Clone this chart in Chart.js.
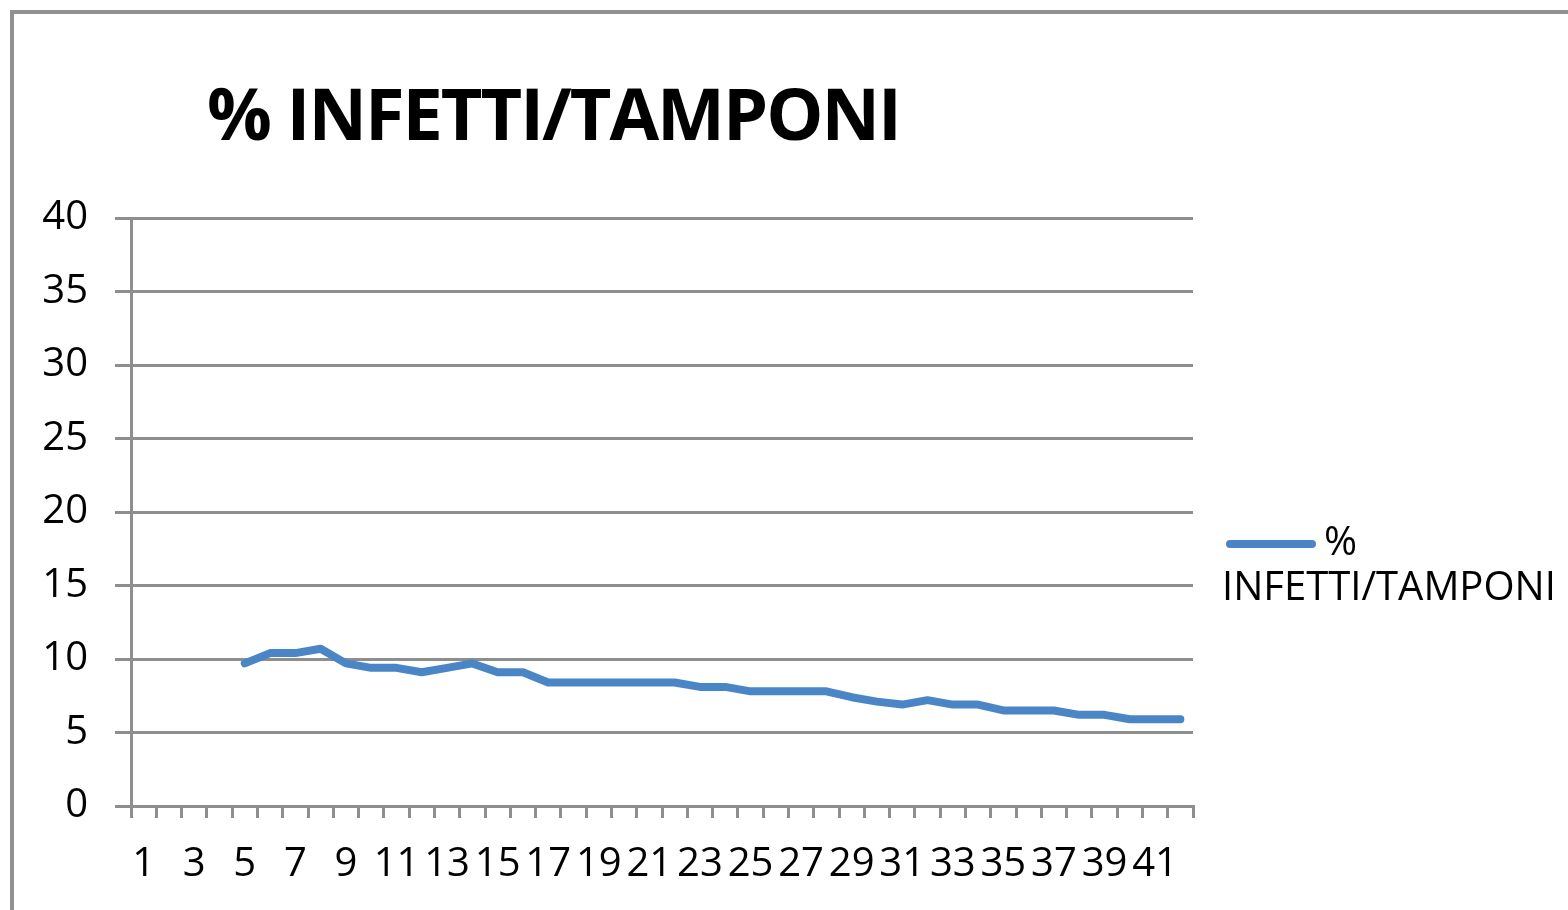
<!DOCTYPE html>
<html>
<head>
<meta charset="utf-8">
<script src="https://cdn.jsdelivr.net/npm/chart.js@4.4.0/dist/chart.umd.min.js"></script>
<style>
    html, body { margin: 0; padding: 0; background: #fff; }
    #wrap { position: relative; width: 1568px; height: 910px; overflow: hidden; font-family: "Open Sans", sans-serif; }
    #frame { position: absolute; left: 10px; top: 10px; width: 1600px; height: 950px; border-left: 4px solid #919191; border-top: 4px solid #919191; }
    #chart { position: absolute; left: 0; top: 0; }
    #title { position: absolute; left: 207px; top: 76px; font-size: 72px; line-height: 72px; font-weight: 700; letter-spacing: -2px; color: #000; white-space: nowrap; }
    #legend { position: absolute; left: 1222px; top: 517px; font-size: 40px; line-height: 45px; color: #000; white-space: nowrap; }
    #legend .swatch { display: inline-block; width: 90px; height: 8px; border-radius: 4px; margin-left: 4px; margin-right: 8px; vertical-align: middle; }
</style>
</head>
<body>
<div id="wrap">
    <div id="frame"></div>
    <canvas id="chart" width="1568" height="910"></canvas>
    <div id="title"></div>
    <div id="legend"></div>
</div>
<script>
var chartTitle = '% INFETTI/TAMPONI';
var seriesName = '% INFETTI/TAMPONI';

// days 1..42
var days = [];
for (var d = 1; d <= 42; d++) days.push(String(d));

// percentage of positives over swabs, no data for first 4 days
var infettiTamponi = [
    null, null, null, null,
    9.7, 10.4, 10.4, 10.7, 9.7, 9.4, 9.4, 9.1, 9.4, 9.7,
    9.1, 9.1, 8.4, 8.4, 8.4, 8.4, 8.4, 8.4, 8.1, 8.1,
    7.8, 7.8, 7.8, 7.8, 7.4, 7.1, 6.9, 7.2, 6.9, 6.9,
    6.5, 6.5, 6.5, 6.2, 6.2, 5.9, 5.9, 5.9
];

var yTicks = [0, 5, 10, 15, 20, 25, 30, 35, 40];

var gridColor = '#8e8e8e';
var lineColor = '#4a86c6';
var tickFont = { family: 'Open Sans', size: 40 };

document.getElementById('title').textContent = chartTitle;

var ctx = document.getElementById('chart').getContext('2d');
var chart = new Chart(ctx, {
    type: 'line',
    data: {
        labels: days,
        datasets: [{
            label: seriesName,
            data: infettiTamponi,
            borderColor: lineColor,
            backgroundColor: lineColor,
            borderWidth: 8,
            borderCapStyle: 'round',
            borderJoinStyle: 'round',
            pointRadius: 0,
            tension: 0,
            fill: false
        }]
    },
    options: {
        responsive: false,
        animation: false,
        layout: { padding: { left: 0, top: 218, right: 375, bottom: 0 } },
        plugins: {
            legend: { display: false },
            title: { display: false },
            tooltip: { enabled: false }
        },
        scales: {
            x: {
                offset: true,
                grid: {
                    offset: true,
                    drawOnChartArea: false,
                    drawTicks: true,
                    tickLength: 12,
                    color: gridColor,
                    lineWidth: 3
                },
                border: { display: true, color: gridColor, width: 3 },
                ticks: {
                    autoSkip: false,
                    maxRotation: 0,
                    color: '#000',
                    font: tickFont,
                    padding: 23,
                    callback: function (value, index) {
                        return index % 2 === 0 ? this.getLabelForValue(value) : '';
                    }
                },
                afterFit: function (scale) { scale.height = 104; }
            },
            y: {
                min: 0,
                max: 40,
                afterBuildTicks: function (scale) {
                    scale.ticks = yTicks.map(function (v) { return { value: v }; });
                },
                grid: {
                    color: gridColor,
                    lineWidth: 3,
                    tickLength: 16,
                    drawTicks: true
                },
                border: { display: true, color: gridColor, width: 3 },
                ticks: {
                    color: '#000',
                    font: tickFont,
                    padding: 27
                },
                afterFit: function (scale) { scale.width = 131; }
            }
        }
    }
});

// html legend built from the dataset
var legendEl = document.getElementById('legend');
chart.data.datasets.forEach(function (ds) {
    var parts = ds.label.split(' ');
    var sw = '<span class="swatch" style="background:' + ds.borderColor + '"></span>';
    legendEl.innerHTML = sw + parts[0] + '<br>' + parts.slice(1).join(' ');
});
</script>
</body>
</html>
